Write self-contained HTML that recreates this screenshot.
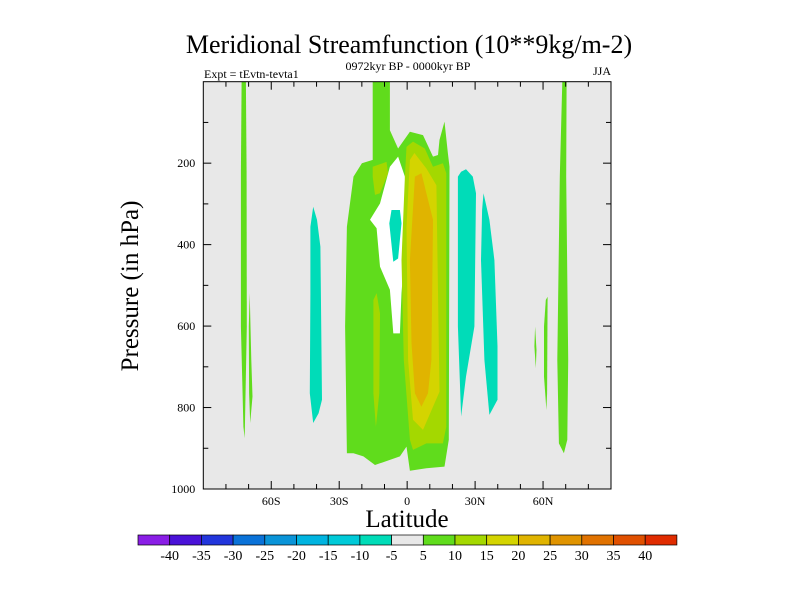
<!DOCTYPE html>
<html><head><meta charset="utf-8"><style>
body{margin:0;background:#fff;}
svg text{font-family:"Liberation Serif",serif;fill:#000;}
</style></head><body>
<svg id="chart" width="800" height="600" viewBox="0 0 800 600" xmlns="http://www.w3.org/2000/svg">
<text x="409" y="53" font-size="26" text-anchor="middle">Meridional Streamfunction (10**9kg/m-2)</text>
<text x="408" y="70" font-size="12" text-anchor="middle">0972kyr BP - 0000kyr BP</text>
<text x="204" y="78" font-size="12">Expt = tEvtn-tevta1</text>
<text x="611" y="75" font-size="12" text-anchor="end">JJA</text>
<text x="0" y="0" font-size="25" text-anchor="middle" transform="translate(138,286) rotate(-90)">Pressure (in hPa)</text>
<text x="407" y="527" font-size="25" text-anchor="middle">Latitude</text>
<g id="plot"></g>
<g id="cbar"></g>
</svg>
<script>
const levels = [-40,-35,-30,-25,-20,-15,-10,-5,5,10,15,20,25,30,35,40];
const colors = ["#8a1ee6","#4a12d8","#2236dc","#0a72d8","#0a94d8","#00b4e0","#00cad8","#00dcb8","#e8e8e8","#60dc1c","#a4d800","#d4d400","#e0b400","#e09400","#e07200","#e05000","#e02c00"];
const xTicks = [-60,-30,0,30,60];
const xTickLabels = ["60S","30S","0","30N","60N"];
const yTicks = [200,400,600,800,1000];
// contour regions: [lat, pressure] polygons with fill level class index
const regionLevels = [9,9,9,9,9,7,7,7,7,9,10,10,10,11,12,null];
const regionShapes = [
 [[-26.6,912],[-27.4,601],[-26.6,356],[-23.7,233],[-20,200],[-15.2,192],[-15.2,168],[-15.2,0],[-7.6,0],[-7.6,119],[-4,164],[1.2,123],[7,131],[11.4,184],[13.6,180],[14.3,143],[16.5,98],[18,176],[18.7,209],[18.4,879],[16.5,945],[8.5,949],[1.2,955],[-0.3,896],[-3.2,920],[-12,937],[-14.2,941],[-19.3,920],[-23.7,912]],
 [[-73.1,0],[-71.2,0],[-70.9,225],[-70.8,601],[-71.7,875],[-72.3,847],[-73.4,601],[-73.4,225]],
 [[-69.5,519],[-68.8,683],[-68.3,773],[-69.3,838],[-69.8,765],[-69.9,601]],
 [[68.5,0],[70.4,0],[70.2,233],[71.1,683],[70.7,879],[69.2,912],[67,888],[66.3,683],[67.4,233]],
 [[61.2,536],[62,528],[61.8,765],[61.5,806],[60.4,724],[60.4,601]],
 [[-6.9,315],[-3.2,315],[-2.5,348],[-4,434],[-6.1,442],[-7.9,348]],
 [[-42.7,356],[-41.5,307],[-39.8,339],[-38.3,405],[-37.6,781],[-39.1,814],[-41.5,838],[-43,765],[-42.7,519]],
 [[22.4,233],[23.8,221],[26,215],[29,233],[30.4,274],[29.7,601],[26,724],[23.8,822],[22.4,601]],
 [[33.7,274],[36.3,339],[38.5,438],[39.9,650],[39.9,781],[36.3,818],[34.1,683],[32.6,438],[33.1,315]],
 [[56.5,601],[57.1,659],[56.8,703],[56.2,650]],
 [[-15.2,209],[-9.1,197],[-8.4,225],[-12,274],[-14.2,278],[-15.2,233]],
 [[-14.9,536],[-13.5,519],[-12,569],[-12.3,765],[-13.8,847],[-14.9,765]],
 [[-0.3,160],[2.6,147],[7.8,164],[11.4,209],[15.8,200],[17.3,225],[17.3,847],[15.8,888],[8.5,888],[2.6,904],[1.2,879],[-1.5,683],[-2.5,438],[-1,233]],
 [[1.2,192],[3.2,175],[8.5,213],[12.9,254],[13.6,516],[14.3,761],[7,855],[2.6,830],[0.4,683],[-0.3,356]],
 [[3.4,233],[6.3,225],[11.4,339],[10.7,683],[9.2,765],[6.3,798],[3.4,765],[1.9,642],[1.2,438]],
 [[-7.6,209],[-12,299],[-16.4,339],[-13.5,360],[-12,454],[-7.6,511],[-6.1,618],[-3.2,618],[-2.5,519],[-0.3,356],[-1,233],[-4,184]]
];
const L=203.3,R=611,T=81.7,B=489;
const xs = lat => L+(lat+90)/180*(R-L);
const ys = p => T+p/1000*(B-T);
const NS="http://www.w3.org/2000/svg";
const plot=document.getElementById('plot');
function mk(tag,attrs,parent){const e=document.createElementNS(NS,tag);for(const k in attrs)e.setAttribute(k,attrs[k]);parent.appendChild(e);return e;}
const bg=mk('rect',{x:L,y:T,width:R-L,height:B-T,fill:'#e8e8e8'},plot);


const order=[0,1,2,3,4,15,5,6,7,8,9,10,11,12,13,14];
order.forEach(i=>{
  const fill = regionLevels[i]===null ? '#ffffff' : colors[regionLevels[i]];
  const pts=regionShapes[i].map(d=>xs(d[0]).toFixed(1)+','+ys(d[1]).toFixed(1)).join(' ');
  const pg=mk('polygon',{points:pts,fill:fill},plot);
  
  
});
const frame=mk('rect',{x:L,y:T,width:R-L,height:B-T,fill:'none',stroke:'#000','stroke-width':1},plot);


for(let lat=-80;lat<=80;lat+=10){
  const major=lat%30===0, len=major?8:5, x=xs(lat);
  mk('line',{x1:x,y1:B,x2:x,y2:B-len,stroke:'#000'},plot);
  mk('line',{x1:x,y1:T,x2:x,y2:T+len,stroke:'#000'},plot);
}
for(let p=100;p<1000;p+=100){
  const major=p%200===0,len=major?8:5,y=ys(p);
  mk('line',{x1:L,y1:y,x2:L+len,y2:y,stroke:'#000'},plot);
  mk('line',{x1:R,y1:y,x2:R-len,y2:y,stroke:'#000'},plot);
}
xTicks.forEach((v,i)=>{
  const t=mk('text',{x:xs(v),y:B+16,'font-size':12,'text-anchor':'middle'},plot);
  t.textContent=xTickLabels[i];
  
  
});
yTicks.forEach(v=>{
  const t=mk('text',{x:L-8,y:ys(v)+4,'font-size':12,'text-anchor':'end'},plot);
  t.textContent=v;
  
  
});
const cb=document.getElementById('cbar');
const cbX=138,cbW=31.7,cbY=535,cbH=10;
colors.forEach((c,i)=>{
  const r=mk('rect',{x:cbX+i*cbW,y:cbY,width:cbW,height:cbH,fill:c,stroke:'#000','stroke-width':0.7},cb);
  
  
});
levels.forEach((v,i)=>{
  const t=mk('text',{x:cbX+(i+1)*cbW,y:560,'font-size':14,'text-anchor':'middle'},cb);
  t.textContent=v;
  
  
});
</script>
</body></html>
